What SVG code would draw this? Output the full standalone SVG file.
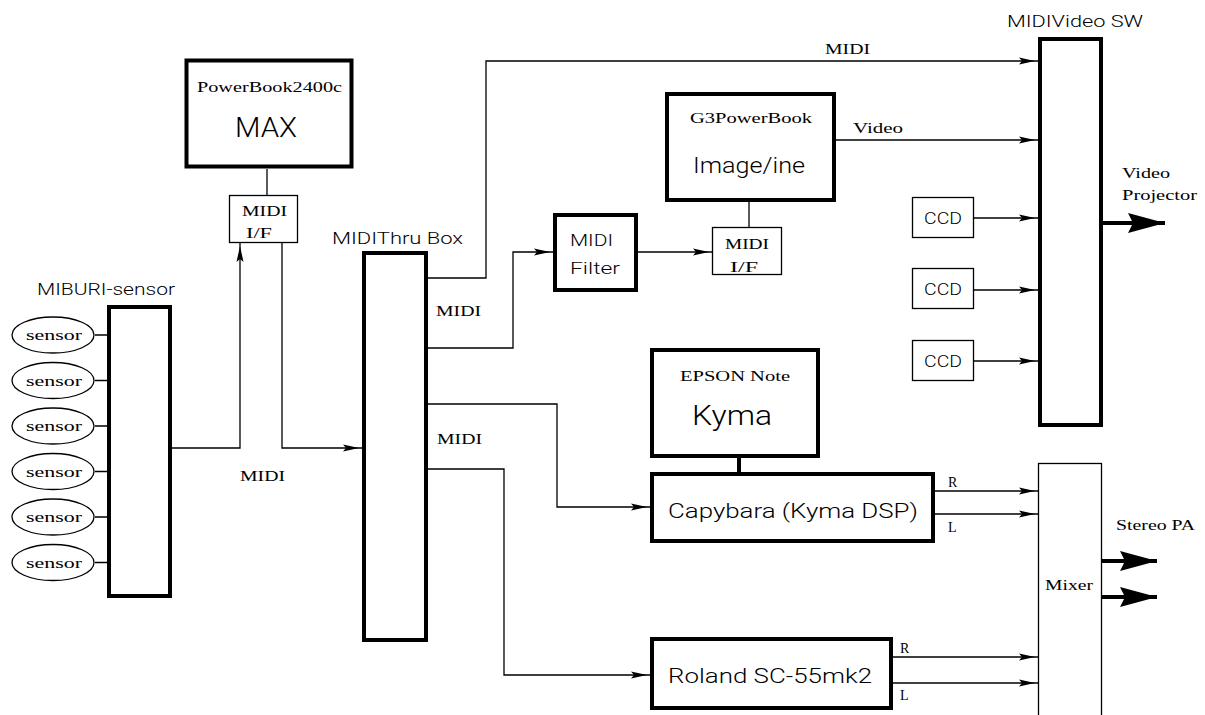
<svg xmlns="http://www.w3.org/2000/svg" width="1205" height="715" viewBox="0 0 1205 715">
<style>
.thick{fill:#fff;stroke:#000;stroke-width:4}
.thin{fill:#fff;stroke:#000;stroke-width:1.3}
.ln{fill:none;stroke:#000;stroke-width:1.3}
.tk{fill:none;stroke:#000;stroke-width:4}
.sans{font-family:Roboto,"Liberation Sans",Arial,sans-serif;font-weight:300;fill:#000}
.serif{font-family:"Liberation Serif","Times New Roman",serif;font-weight:normal;fill:#000}
</style>
<defs>
<marker id="a" viewBox="0 0 19 9" refX="19" refY="4.5" markerWidth="19" markerHeight="9" markerUnits="userSpaceOnUse" orient="auto">
<path d="M0,1 L16,4.5 L0,8 L3,4.5 z" fill="#000"/>
</marker>
<marker id="b" viewBox="0 0 38 20" refX="37" refY="10" markerWidth="38" markerHeight="20" markerUnits="userSpaceOnUse" orient="auto">
<path d="M0,0 L37,10 L0,20 L5,10 z" fill="#000"/>
</marker>
</defs>
<rect width="1205" height="715" fill="#fff"/>

<g id="connectors">
<path class="ln" d="M95,335 H108 M95,380.5 H108 M95,426 H108 M95,471.5 H108 M95,517 H108 M95,562.5 H108"/>
<path class="ln" d="M267,169 V195"/>
<path class="ln" d="M172,448 H240 V243" marker-end="url(#a)"/>
<path class="ln" d="M282,243 V448 H362" marker-end="url(#a)"/>
<path class="ln" d="M428,278 H486 V61 H1038" marker-end="url(#a)"/>
<path class="ln" d="M428,348 H513 V252 H553" marker-end="url(#a)"/>
<path class="ln" d="M638,252 H712" marker-end="url(#a)"/>
<path class="ln" d="M749,227 V202"/>
<path class="ln" d="M836,140 H1038" marker-end="url(#a)"/>
<path class="ln" d="M974,218 H1038" marker-end="url(#a)"/>
<path class="ln" d="M974,290 H1038" marker-end="url(#a)"/>
<path class="ln" d="M974,361 H1038" marker-end="url(#a)"/>
<path class="ln" d="M428,404 H557 V507 H650" marker-end="url(#a)"/>
<path class="ln" d="M428,469 H504 V675 H650" marker-end="url(#a)"/>
<path class="tk" d="M739,458 V472"/>
<path class="ln" d="M935,491 H1038" marker-end="url(#a)"/>
<path class="ln" d="M935,514 H1038" marker-end="url(#a)"/>
<path class="ln" d="M893,657 H1038" marker-end="url(#a)"/>
<path class="ln" d="M893,683 H1038" marker-end="url(#a)"/>
<path class="tk" d="M1103,223 H1165" marker-end="url(#b)"/>
<path class="tk" d="M1102,561 H1157" marker-end="url(#b)"/>
<path class="tk" d="M1102,597 H1157" marker-end="url(#b)"/>
</g>

<g id="labels">
<text class="sans" x="332" y="244" font-size="16" textLength="131" lengthAdjust="spacingAndGlyphs">MIDIThru Box</text>
<text class="sans" x="37" y="295" font-size="16" textLength="138" lengthAdjust="spacingAndGlyphs">MIBURI-sensor</text>
<text class="sans" x="1007" y="27" font-size="16" textLength="136" lengthAdjust="spacingAndGlyphs">MIDIVideo SW</text>
<text class="serif" x="240" y="481" font-size="15" textLength="45" lengthAdjust="spacingAndGlyphs">MIDI</text>
<text class="serif" x="436" y="316" font-size="15" textLength="45" lengthAdjust="spacingAndGlyphs">MIDI</text>
<text class="serif" x="437" y="444" font-size="15" textLength="45" lengthAdjust="spacingAndGlyphs">MIDI</text>
<text class="serif" x="825" y="54" font-size="15" textLength="45" lengthAdjust="spacingAndGlyphs">MIDI</text>
<text class="serif" x="853" y="133" font-size="14" textLength="50" lengthAdjust="spacingAndGlyphs">Video</text>
<text class="serif" x="1122" y="178" font-size="14" textLength="48" lengthAdjust="spacingAndGlyphs">Video</text>
<text class="serif" x="1122" y="200" font-size="14" textLength="75" lengthAdjust="spacingAndGlyphs">Projector</text>
<text class="serif" x="948" y="487" font-size="14">R</text>
<text class="serif" x="948" y="532" font-size="14">L</text>
<text class="serif" x="900" y="653" font-size="14">R</text>
<text class="serif" x="900" y="700" font-size="14">L</text>
<text class="serif" x="1116" y="530" font-size="14" textLength="79" lengthAdjust="spacingAndGlyphs">Stereo PA</text>
</g>

<g id="miburi">
<rect class="thick" x="109" y="307" width="61" height="289"/>
</g>
<g id="sensors">
<ellipse class="thin" cx="53" cy="335" rx="41" ry="18"/>
<ellipse class="thin" cx="53" cy="380.5" rx="41" ry="18"/>
<ellipse class="thin" cx="53" cy="426" rx="41" ry="18"/>
<ellipse class="thin" cx="53" cy="471.5" rx="41" ry="18"/>
<ellipse class="thin" cx="53" cy="517" rx="41" ry="18"/>
<ellipse class="thin" cx="53" cy="562.5" rx="41" ry="18"/>
<g class="serif" font-size="15" text-anchor="middle">
<text x="54" y="340" textLength="56" lengthAdjust="spacingAndGlyphs">sensor</text>
<text x="54" y="385.5" textLength="56" lengthAdjust="spacingAndGlyphs">sensor</text>
<text x="54" y="431" textLength="56" lengthAdjust="spacingAndGlyphs">sensor</text>
<text x="54" y="476.5" textLength="56" lengthAdjust="spacingAndGlyphs">sensor</text>
<text x="54" y="522" textLength="56" lengthAdjust="spacingAndGlyphs">sensor</text>
<text x="54" y="567.5" textLength="56" lengthAdjust="spacingAndGlyphs">sensor</text>
</g>
</g>

<g id="powerbook">
<rect class="thick" x="186.5" y="60.5" width="165" height="106" stroke-width="5"/>
<text class="serif" x="197" y="92" font-size="14" textLength="145" lengthAdjust="spacingAndGlyphs">PowerBook2400c</text>
<text class="sans" x="235" y="137" font-size="27" textLength="62" lengthAdjust="spacingAndGlyphs">MAX</text>
</g>

<g id="midiif1">
<rect class="thin" x="229.5" y="195.5" width="68" height="47"/>
<text class="serif" x="242" y="216" font-size="15" textLength="45" lengthAdjust="spacingAndGlyphs">MIDI</text>
<text class="serif" x="246" y="238" font-size="15" textLength="26" lengthAdjust="spacingAndGlyphs">I/F</text>
</g>

<g id="thrubox">
<rect class="thick" x="364" y="253" width="62" height="387"/>
</g>

<g id="midifilter">
<rect class="thick" x="555" y="215" width="81" height="75"/>
<text class="sans" x="570" y="246" font-size="16" textLength="43" lengthAdjust="spacingAndGlyphs">MIDI</text>
<text class="sans" x="570" y="274" font-size="16" textLength="50" lengthAdjust="spacingAndGlyphs">Filter</text>
</g>

<g id="midiif2">
<rect class="thin" x="712.5" y="227.5" width="69" height="47"/>
<text class="serif" x="725" y="249" font-size="15" textLength="44" lengthAdjust="spacingAndGlyphs">MIDI</text>
<text class="serif" x="730" y="272" font-size="15" textLength="28" lengthAdjust="spacingAndGlyphs">I/F</text>
</g>

<g id="g3powerbook">
<rect class="thick" x="667" y="94" width="167" height="106"/>
<text class="serif" x="690" y="123" font-size="14" textLength="122" lengthAdjust="spacingAndGlyphs">G3PowerBook</text>
<text class="sans" x="693" y="173" font-size="22" textLength="112" lengthAdjust="spacingAndGlyphs">Image/ine</text>
</g>

<g id="videosw">
<rect class="thick" x="1040" y="39" width="61" height="386"/>
</g>

<g id="ccd1">
<rect class="thin" x="912.5" y="197.5" width="61" height="40"/>
<text class="sans" x="943" y="224" font-size="16" text-anchor="middle" textLength="38" lengthAdjust="spacingAndGlyphs">CCD</text>
</g>
<g id="ccd2">
<rect class="thin" x="912.5" y="268.5" width="61" height="40"/>
<text class="sans" x="943" y="295" font-size="16" text-anchor="middle" textLength="38" lengthAdjust="spacingAndGlyphs">CCD</text>
</g>
<g id="ccd3">
<rect class="thin" x="912.5" y="340.5" width="61" height="40"/>
<text class="sans" x="943" y="367" font-size="16" text-anchor="middle" textLength="38" lengthAdjust="spacingAndGlyphs">CCD</text>
</g>

<g id="epson">
<rect class="thick" x="652" y="350" width="166" height="106"/>
<text class="serif" x="680" y="381" font-size="14" textLength="110" lengthAdjust="spacingAndGlyphs">EPSON Note</text>
<text class="sans" x="692" y="425" font-size="27" textLength="80" lengthAdjust="spacingAndGlyphs">Kyma</text>
</g>

<g id="capybara">
<rect class="thick" x="652" y="474" width="281" height="67"/>
<text class="sans" x="668" y="518" font-size="21" textLength="250" lengthAdjust="spacingAndGlyphs">Capybara (Kyma DSP)</text>
</g>

<g id="roland">
<rect class="thick" x="652" y="639" width="239" height="69"/>
<text class="sans" x="668" y="683" font-size="21" textLength="204" lengthAdjust="spacingAndGlyphs">Roland SC-55mk2</text>
</g>

<g id="mixer">
<rect class="thin" x="1038.5" y="463.5" width="63" height="262"/>
<text class="serif" x="1045" y="590" font-size="15" textLength="48" lengthAdjust="spacingAndGlyphs">Mixer</text>
</g>
</svg>
